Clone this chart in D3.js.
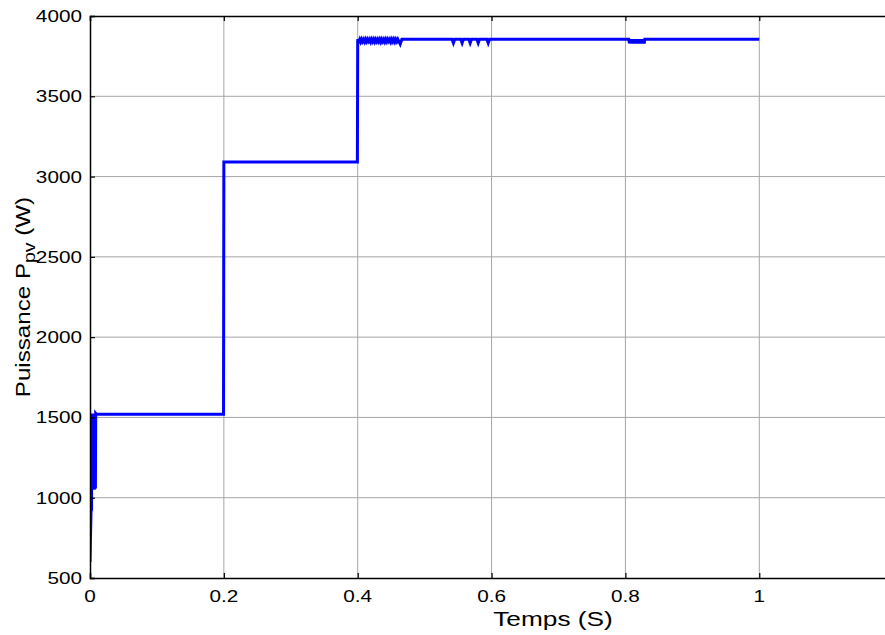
<!DOCTYPE html>
<html>
<head>
<meta charset="utf-8">
<script src="https://cdn.jsdelivr.net/npm/d3@7"></script>
<style>
    body { margin: 0; background: #fff; }
    svg { display: block; font-family: "Liberation Sans", Arial, sans-serif; }
</style>
</head>
<body>
<svg id="chart" width="885" height="635"></svg>
<script>
// PV power vs time (s) — start-up transient, irradiance steps and MPPT ripple
const timeS = [
    // start-up
    0, 0.0015, 0.0017, 0.0019, 0.0021, 0.0023, 0.0025, 0.0027, 0.003, 0.0033,
    0.0036, 0.0039, 0.0042, 0.0045, 0.0048, 0.0051, 0.0054, 0.0057, 0.006, 0.0063,
    0.0066, 0.0069, 0.0072, 0.0075, 0.0078, 0.0081, 0.0085, 0.0095,
    // irradiance steps
    0.1995, 0.2, 0.3995, 0.4,
    // ripple after the second step
    0.4015, 0.403, 0.4045, 0.406, 0.4075, 0.409, 0.4105, 0.412, 0.4135, 0.415,
    0.4165, 0.418, 0.4195, 0.421, 0.4225, 0.424, 0.4255, 0.427, 0.4285, 0.43,
    0.4315, 0.433, 0.4345, 0.436, 0.4375, 0.439, 0.4405, 0.442, 0.4435, 0.445,
    0.4465, 0.448, 0.4495, 0.451, 0.4525, 0.454, 0.4555, 0.457, 0.4585, 0.46,
    0.4635, 0.466,
    // isolated dips
    0.541, 0.543, 0.545, 0.554, 0.556, 0.558, 0.566, 0.568, 0.570,
    0.578, 0.580, 0.582, 0.593, 0.595, 0.597,
    // ripple burst
    0.805, 0.806, 0.807, 0.808, 0.809, 0.810, 0.811, 0.812, 0.813, 0.814,
    0.815, 0.816, 0.817, 0.818, 0.819, 0.820, 0.821, 0.822, 0.823, 0.824,
    0.825, 0.826, 0.827, 0.828, 0.829, 0.830,
    1.0
];
const powerW = [
    600, 910, 1525, 915, 1520, 920, 1525, 1050, 1520, 1055,
    1525, 1050, 1520, 1058, 1525, 1052, 1520, 1056, 1525, 1050,
    1520, 1055, 1525, 1060, 1520, 1058, 1525, 1520,
    1520, 3090, 3090, 3855,
    3840, 3855, 3838, 3855, 3841, 3855, 3839, 3855, 3840, 3855,
    3842, 3855, 3838, 3855, 3840, 3855, 3839, 3855, 3841, 3855,
    3840, 3855, 3838, 3855, 3841, 3855, 3839, 3855, 3840, 3855,
    3842, 3855, 3838, 3855, 3840, 3855, 3839, 3855, 3841, 3855,
    3825, 3855,
    3855, 3832, 3855, 3855, 3832, 3855, 3855, 3832, 3855,
    3855, 3832, 3855, 3855, 3832, 3855,
    3855, 3830, 3855, 3828, 3855, 3830, 3855, 3828, 3855, 3830,
    3855, 3828, 3855, 3830, 3855, 3828, 3855, 3830, 3855, 3828,
    3855, 3830, 3855, 3828, 3855, 3855,
    3855
];
const xTicks = [0, 0.2, 0.4, 0.6, 0.8, 1];
const yTicks = [500, 1000, 1500, 2000, 2500, 3000, 3500, 4000];

const svg = d3.select("#chart");

const plotL = 90, plotR = 1027, plotT = 16, plotB = 578;

const x = d3.scaleLinear().domain([0, 1.4]).range([plotL, plotR]);
const y = d3.scaleLinear().domain([500, 4000]).range([plotB, plotT]);

svg.append("defs").append("clipPath").attr("id", "plot-clip")
    .append("rect")
    .attr("x", plotL).attr("y", plotT)
    .attr("width", plotR - plotL).attr("height", plotB - plotT);

// grid
const grid = svg.append("g").attr("stroke", "#a6a6a6").attr("stroke-width", 1);
grid.selectAll("line.gx")
    .data(xTicks.filter(d => d > 0))
    .enter().append("line")
    .attr("x1", d => x(d)).attr("x2", d => x(d))
    .attr("y1", plotT).attr("y2", plotB);
grid.selectAll("line.gy")
    .data(yTicks.filter(d => d > 500 && d < 4000))
    .enter().append("line")
    .attr("x1", plotL).attr("x2", plotR)
    .attr("y1", d => y(d)).attr("y2", d => y(d));

// power curve
const points = timeS.map((t, i) => [t, powerW[i]]);
svg.append("path")
    .datum(points)
    .attr("clip-path", "url(#plot-clip)")
    .attr("fill", "none")
    .attr("stroke", "#0000ff")
    .attr("stroke-width", 3)
    .attr("d", d3.line().x(d => x(d[0])).y(d => y(d[1])));

// axes (ticks pointing inward)
const tickFmt = d => d3.format("~g")(d);
const xAxisB = svg.append("g")
    .attr("transform", `translate(0,${plotB})`)
    .call(d3.axisTop(x).tickValues(xTicks).tickSize(5).tickFormat(""));
const xAxisT = svg.append("g")
    .attr("transform", `translate(0,${plotT})`)
    .call(d3.axisBottom(x).tickValues(xTicks).tickSize(5).tickFormat(""));
const yAxisL = svg.append("g")
    .attr("transform", `translate(${plotL},0)`)
    .call(d3.axisRight(y).tickValues(yTicks).tickSize(5).tickFormat(""));
const yAxisR = svg.append("g")
    .attr("transform", `translate(${plotR},0)`)
    .call(d3.axisLeft(y).tickValues(yTicks).tickSize(5).tickFormat(""));

[xAxisB, xAxisT, yAxisL, yAxisR].forEach(g => {
    g.select(".domain").attr("stroke", "#000").attr("stroke-width", 1.5);
    g.selectAll(".tick line").attr("stroke", "#000").attr("stroke-width", 1.2);
});

// tick labels
svg.append("g").selectAll("text")
    .data(xTicks)
    .enter().append("text")
    .attr("transform", d => `translate(${x(d)},${plotB + 24}) scale(1.22,1)`)
    .attr("text-anchor", "middle")
    .style("font-size", "17px")
    .text(tickFmt);

svg.append("g").selectAll("text")
    .data(yTicks)
    .enter().append("text")
    .attr("transform", d => `translate(${plotL - 8},${y(d) + 6}) scale(1.22,1)`)
    .attr("text-anchor", "end")
    .style("font-size", "17px")
    .text(tickFmt);

// axis titles
svg.append("text")
    .attr("transform", `translate(553,${plotB + 48}) scale(1.25,1)`)
    .attr("text-anchor", "middle")
    .style("font-size", "21px")
    .text("Temps (S)");

const yLabel = svg.append("text")
    .attr("transform", `translate(30,${(plotT + plotB) / 2}) rotate(-90) scale(1.15,1)`)
    .attr("text-anchor", "middle")
    .style("font-size", "21px");
yLabel.append("tspan").text("Puissance P");
yLabel.append("tspan").attr("dy", 5).style("font-size", "17px").text("pv");
yLabel.append("tspan").attr("dy", -5).text(" (W)");
</script>
</body>
</html>
